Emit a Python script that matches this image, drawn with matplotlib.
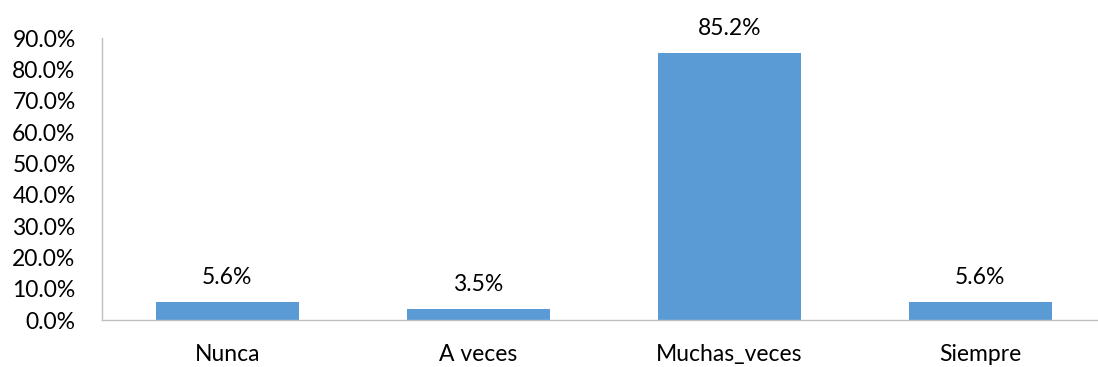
import matplotlib.pyplot as plt
from matplotlib.ticker import FuncFormatter

categorias = ["Nunca", "A veces", "Muchas_veces", "Siempre"]
porcentajes = [5.6, 3.5, 85.2, 5.6]
yticks = [0, 10, 20, 30, 40, 50, 60, 70, 80, 90]

plt.rcParams['font.family'] = ['Lato', 'DejaVu Sans']
fs = 16.5

fig = plt.figure(figsize=(10.98, 3.67), dpi=100)
ax = fig.add_axes([0.0929, 0.128, 0.9071, 0.7684])

x = range(len(categorias))
bars = ax.bar(x, porcentajes, width=0.57, color='#5B9BD5', zorder=2)

for b, v in zip(bars, porcentajes):
    ax.annotate(f"{v:.1f}%", (b.get_x() + b.get_width() / 2, v),
                xytext=(0, 18), textcoords='offset points',
                ha='center', va='center', fontsize=fs, color='#000000')

ax.set_xlim(-0.5, 3.47)
ax.set_ylim(0, 90)
ax.set_yticks(yticks)
ax.yaxis.set_major_formatter(FuncFormatter(lambda v, p: f"{v:.1f}%"))
ax.set_xticks(list(x))
ax.set_xticklabels(categorias)

ax.tick_params(axis='both', length=0, labelsize=fs, colors='#000000')
ax.tick_params(axis='y', pad=19)
ax.tick_params(axis='x', pad=17)

for s in ['top', 'right']:
    ax.spines[s].set_visible(False)
for s in ['left', 'bottom']:
    ax.spines[s].set_color('#BFBFBF')
    ax.spines[s].set_linewidth(1.0)

fig.savefig('out.png', dpi=100)
